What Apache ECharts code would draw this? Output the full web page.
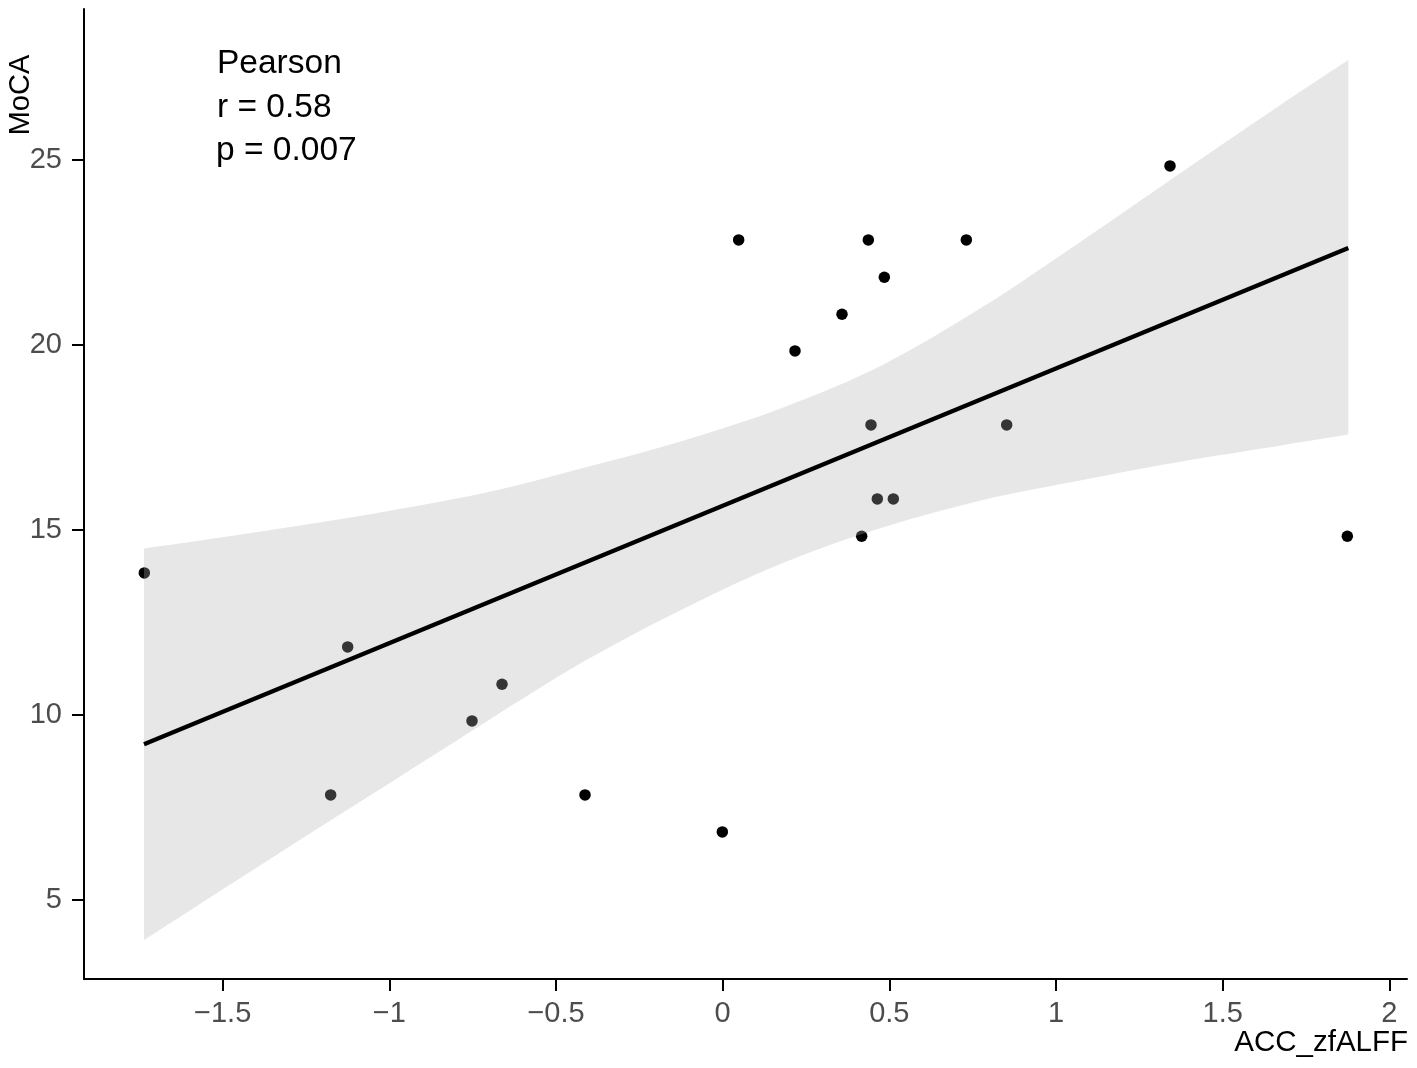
<!DOCTYPE html>
<html>
<head>
<meta charset="utf-8">
<script src="https://cdn.jsdelivr.net/npm/echarts@6/dist/echarts.min.js"></script>
<style>
html,body{margin:0;padding:0;background:#fff;}
#chart{width:1417px;height:1068px;}
</style>
</head>
<body>
<div id="chart"></div>
<script>
// ACC_zfALFF (x) and MoCA (y) for each subject
var accX = [-1.735, -1.125, -1.176, -0.752, -0.662, -0.413, -0.001, 0.048, 0.217, 0.358,
            0.437, 0.485, 0.445, 0.464, 0.512, 0.417, 0.731, 0.852, 1.342, 1.874];
var mocaY = [13.84, 11.84, 7.84, 9.84, 10.83, 7.84, 6.84, 22.84, 19.84, 20.83,
             22.84, 21.83, 17.84, 15.84, 15.84, 14.83, 22.84, 17.84, 24.84, 14.83];

// fitted regression line end points
var fitX = [-1.736, 1.877];
var fitY = [9.21, 22.62];

// confidence band
var bandX = [-1.736, -1.415, -1.076, -0.716, -0.416, -0.116, 0.184, 0.484, 0.784, 1.084, 1.342, 1.684, 1.877];
var bandLower = [3.92, 5.78, 7.72, 9.78, 11.45, 12.88, 14.12, 15.08, 15.82, 16.36, 16.80, 17.30, 17.58];
var bandUpper = [14.50, 14.92, 15.40, 16.00, 16.68, 17.42, 18.32, 19.48, 21.05, 22.85, 24.45, 26.55, 27.70];

var xTicks = [-1.5, -1, -0.5, 0, 0.5, 1, 1.5, 2];
var yTicks = [5, 10, 15, 20, 25];

var annotation = ['Pearson', 'r = 0.58', 'p = 0.007'];
var xName = 'ACC_zfALFF';
var yName = 'MoCA';

var FONT = '"Liberation Sans", Arial, Helvetica, sans-serif';

var points = accX.map(function (x, i) { return [x, mocaY[i]]; });
var fitData = fitX.map(function (x, i) { return [x, fitY[i]]; });

function fmt(v) { return String(v).replace('-', '\u2212'); }

// smooth curve (Catmull-Rom as cubic Bezier) through pixel points
function curveThrough(pts) {
  var d = '';
  for (var i = 0; i < pts.length - 1; i++) {
    var p0 = pts[Math.max(i - 1, 0)], p1 = pts[i], p2 = pts[i + 1], p3 = pts[Math.min(i + 2, pts.length - 1)];
    var c1x = p1[0] + (p2[0] - p0[0]) / 6, c1y = p1[1] + (p2[1] - p0[1]) / 6;
    var c2x = p2[0] - (p3[0] - p1[0]) / 6, c2y = p2[1] - (p3[1] - p1[1]) / 6;
    d += ' C' + c1x + ' ' + c1y + ' ' + c2x + ' ' + c2y + ' ' + p2[0] + ' ' + p2[1];
  }
  return d;
}

function renderBand(params, api) {
  var up = [], lo = [];
  for (var i = 0; i < bandX.length; i++) up.push(api.coord([bandX[i], bandUpper[i]]));
  for (var j = bandX.length - 1; j >= 0; j--) lo.push(api.coord([bandX[j], bandLower[j]]));
  var d = 'M' + up[0][0] + ' ' + up[0][1] + curveThrough(up) +
          ' L' + lo[0][0] + ' ' + lo[0][1] + curveThrough(lo) + ' Z';
  return {
    type: 'path',
    shape: {pathData: d},
    style: {fill: 'rgb(176,176,176)', opacity: 0.3, stroke: null}
  };
}

var chart = echarts.init(document.getElementById('chart'), null, {renderer: 'canvas'});
chart.setOption({
  animation: false,
  backgroundColor: '#ffffff',
  grid: {left: 84, right: 10, top: 9, bottom: 89, containLabel: false},
  xAxis: {
    type: 'value',
    min: -1.916, max: 2.053,
    splitLine: {show: false},
    axisLine: {show: true, onZero: false, lineStyle: {color: '#000', width: 2}},
    axisTick: {show: true, length: 12, lineStyle: {color: '#000', width: 2}, customValues: xTicks},
    axisLabel: {show: true, customValues: xTicks, formatter: fmt, margin: 20,
      fontFamily: FONT, fontSize: 29, color: '#4d4d4d'}
  },
  yAxis: {
    type: 'value',
    min: 2.865, max: 29.08,
    splitLine: {show: false},
    axisLine: {show: true, onZero: false, lineStyle: {color: '#000', width: 2}},
    axisTick: {show: true, length: 12, lineStyle: {color: '#000', width: 2}, customValues: yTicks},
    axisLabel: {show: true, customValues: yTicks, formatter: fmt, margin: 22,
      fontFamily: FONT, fontSize: 29, color: '#4d4d4d'}
  },
  series: [
    {
      type: 'scatter', z: 2,
      data: points,
      symbol: 'circle', symbolSize: 11.5,
      itemStyle: {color: '#000', opacity: 1}
    },
    {
      type: 'custom', z: 3,
      data: [0],
      renderItem: renderBand,
      silent: true
    },
    {
      type: 'line', z: 4,
      data: fitData,
      symbol: 'none',
      lineStyle: {color: '#000', width: 4.3}
    }
  ],
  graphic: [
    {type: 'text', x: 217, y: 64, style: {text: annotation[0], fontFamily: FONT, fontSize: 33.5, fill: '#000', textAlign: 'left', verticalAlign: 'middle'}},
    {type: 'text', x: 217, y: 107.5, style: {text: annotation[1], fontFamily: FONT, fontSize: 33.5, fill: '#000', textAlign: 'left', verticalAlign: 'middle'}},
    {type: 'text', x: 216, y: 151, style: {text: annotation[2], fontFamily: FONT, fontSize: 33.5, fill: '#000', textAlign: 'left', verticalAlign: 'middle'}},
    {type: 'text', x: 1408, y: 1043, style: {text: xName, fontFamily: FONT, fontSize: 29.5, fill: '#000', textAlign: 'right', verticalAlign: 'middle'}},
    {type: 'text', x: 21, y: 95, rotation: Math.PI / 2, style: {text: yName, fontFamily: FONT, fontSize: 29, fill: '#000', textAlign: 'center', verticalAlign: 'middle'}}
  ]
});
</script>
</body>
</html>
